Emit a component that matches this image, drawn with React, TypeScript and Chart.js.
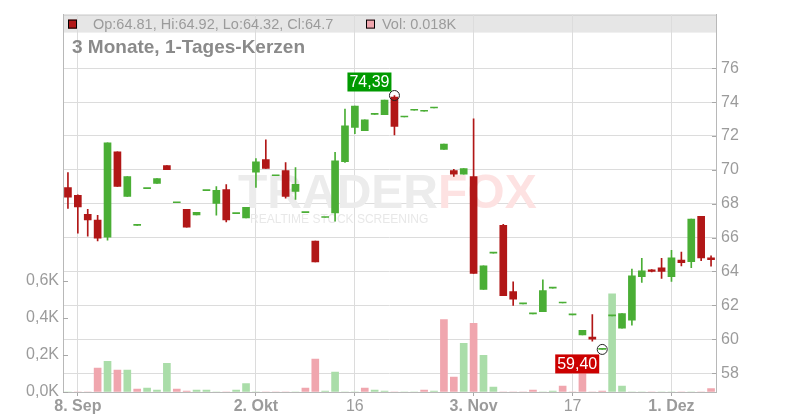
import React, { useEffect, useRef } from 'react';
import { Chart, registerables } from 'chart.js';

Chart.register(...registerables);

const dates = [
  '2025-09-05', '2025-09-08', '2025-09-09', '2025-09-10', '2025-09-11', '2025-09-12',
  '2025-09-15', '2025-09-16', '2025-09-17', '2025-09-18', '2025-09-19',
  '2025-09-22', '2025-09-23', '2025-09-24', '2025-09-25', '2025-09-26',
  '2025-09-29', '2025-09-30', '2025-10-01', '2025-10-02', '2025-10-03',
  '2025-10-06', '2025-10-07', '2025-10-08', '2025-10-09', '2025-10-10',
  '2025-10-13', '2025-10-14', '2025-10-15', '2025-10-16', '2025-10-17',
  '2025-10-20', '2025-10-21', '2025-10-22', '2025-10-23', '2025-10-24',
  '2025-10-27', '2025-10-28', '2025-10-29', '2025-10-30', '2025-10-31',
  '2025-11-03', '2025-11-04', '2025-11-05', '2025-11-06', '2025-11-07',
  '2025-11-10', '2025-11-11', '2025-11-12', '2025-11-13', '2025-11-14',
  '2025-11-17', '2025-11-18', '2025-11-19', '2025-11-20', '2025-11-21',
  '2025-11-24', '2025-11-25', '2025-11-26', '2025-11-27', '2025-11-28',
  '2025-12-01', '2025-12-02', '2025-12-03', '2025-12-04', '2025-12-05',
];

const opens = [
  68.96, 68.49, 67.38, 67.03, 66.03, 71.07, 68.43, 66.72, 68.89, 69.2,
  70.25, 68.06, 67.67, 67.34, 68.77, 68.02, 68.84, 67.42, 67.16, 69.86,
  70.6, 69.65, 69.96, 68.73, 67.48, 65.8, 67.19, 67.46, 70.49, 72.5,
  72.32, 73.28, 73.26, 74.3, 73.12, 73.52, 73.46, 73.65, 71.21, 69.96,
  69.74, 69.61, 62.94, 65.08, 66.73, 62.81, 62.09, 61.5, 61.63, 63.02,
  62.14, 61.44, 60.25, 60.13, 59.4, 61.38, 60.66, 61.12, 63.7, 64.1,
  64.21, 63.7, 64.68, 64.58, 67.26, 64.81,
];
const highs = [
  69.84, 68.53, 67.67, 67.32, 71.6, 71.07, 69.61, 66.72, 68.89, 69.49,
  70.25, 68.06, 67.67, 67.5, 68.77, 69.02, 69.13, 67.42, 67.79, 70.66,
  71.77, 69.65, 70.43, 70.13, 67.48, 65.8, 67.19, 71.03, 73.59, 73.77,
  72.95, 73.28, 74.12, 74.39, 73.12, 73.52, 73.46, 73.65, 71.52, 70.03,
  70.07, 73.02, 64.33, 65.08, 66.79, 63.39, 62.09, 61.5, 63.51, 63.02,
  62.14, 61.44, 60.52, 61.46, 59.4, 61.38, 61.52, 64.14, 64.78, 64.12,
  64.78, 65.25, 65.15, 67.09, 67.26, 64.92,
];
const lows = [
  67.73, 66.26, 66.09, 65.8, 65.85, 69.02, 68.43, 66.72, 68.89, 69.2,
  70.01, 68.06, 66.62, 67.34, 68.77, 67.32, 66.93, 67.42, 67.16, 68.96,
  70.08, 69.65, 68.33, 68.26, 67.48, 64.56, 67.19, 66.97, 70.44, 72.13,
  72.32, 73.28, 73.26, 72.07, 73.12, 73.52, 73.46, 73.65, 71.21, 69.62,
  69.74, 63.88, 62.94, 65.08, 62.57, 61.99, 62.09, 61.5, 61.63, 63.02,
  62.14, 61.44, 60.25, 59.89, 59.4, 61.38, 60.66, 60.83, 63.35, 63.98,
  63.59, 63.41, 64.33, 64.23, 64.64, 64.32,
];
const closes = [
  68.39, 67.81, 67.05, 65.97, 71.6, 69.02, 69.61, 66.72, 68.89, 69.49,
  70.01, 68.06, 66.62, 67.5, 68.77, 68.79, 67.04, 67.42, 67.79, 70.47,
  70.08, 69.65, 68.43, 69.14, 67.48, 64.56, 67.19, 70.54, 72.6, 73.77,
  72.95, 73.28, 74.12, 72.56, 73.12, 73.52, 73.46, 73.65, 71.52, 69.74,
  70.07, 63.88, 64.33, 65.08, 62.57, 62.36, 62.09, 61.5, 62.87, 63.02,
  62.14, 61.44, 60.52, 60.01, 59.4, 61.38, 61.52, 63.74, 64.04, 64.0,
  64.0, 64.8, 64.52, 67.09, 64.8, 64.7,
];
const volumes = [
  0, 0, 0, 129, 166, 118, 118, 16, 21, 11,
  155, 16, 5, 11, 11, 0, 0, 11, 45, 0,
  0, 0, 0, 0, 21, 177, 5, 107, 0, 0,
  21, 11, 5, 0, 0, 0, 11, 5, 391, 81,
  262, 370, 198, 27, 0, 0, 0, 11, 0, 5,
  32, 0, 150, 0, 5, 530, 32, 0, 0, 0,
  0, 0, 0, 0, 0, 18,
];

const xTickIndex = [1, 19, 29, 41, 51, 61];
const xTickText = ['8. Sep', '2. Okt', '16', '3. Nov', '17', '1. Dez'];
const xTickBold = [true, true, false, true, false, true];
const priceTicks = [58, 60, 62, 64, 66, 68, 70, 72, 74, 76];
const volumeTicks = [0, 200, 400, 600];

const FONT = "'Liberation Sans', Arial, Helvetica, sans-serif";
const RED = '#b11717';
const GREEN = '#4aae35';
const VOL_RED = '#f0a6ae';
const VOL_GREEN = '#aadda9';
const TXT = '#9b9b9b';

const bodyColors = opens.map((o, i) => (closes[i] < o ? RED : GREEN));
const volColors = closes.map((c, i) => (i > 0 && c < closes[i - 1] ? VOL_RED : VOL_GREEN));

const fmtDE = (v: number) => v.toFixed(2).replace('.', ',');

const decoPlugin = {
  id: 'deco',
  beforeDraw(chart: any) {
    const { ctx, chartArea: a } = chart;
    ctx.save();
    ctx.fillStyle = '#e6e6e6';
    ctx.fillRect(a.left, a.top, a.right - a.left, 18);
    ctx.strokeStyle = '#cacaca';
    ctx.lineWidth = 1;
    ctx.beginPath();
    ctx.moveTo(a.left, a.top + 0.5);
    ctx.lineTo(a.right, a.top + 0.5);
    ctx.stroke();
    ctx.restore();
  },
  beforeDatasetsDraw(chart: any) {
    const { ctx, chartArea: a } = chart;
    ctx.save();
    // watermark
    ctx.textBaseline = 'alphabetic';
    ctx.textAlign = 'left';
    ctx.font = `bold 48px ${FONT}`;
    ctx.fillStyle = '#ececec';
    ctx.fillText('TRADER', 238, 208);
    const w = ctx.measureText('TRADER').width;
    ctx.fillStyle = '#fde2e2';
    ctx.fillText('FOX', 238 + w, 208);
    ctx.font = `12px ${FONT}`;
    ctx.fillStyle = '#e8e8e8';
    ctx.fillText('REALTIME STOCK SCREENING', 250, 223);

    // header texts
    const last = opens.length - 1;
    ctx.textBaseline = 'middle';
    ctx.fillStyle = RED;
    ctx.fillRect(a.left + 5, a.top + 5, 9, 9);
    ctx.strokeStyle = '#000';
    ctx.lineWidth = 1;
    ctx.strokeRect(a.left + 5.5, a.top + 5.5, 8, 8);
    ctx.font = `14.5px ${FONT}`;
    ctx.fillStyle = TXT;
    ctx.fillText(
      `Op:${opens[last]}, Hi:${highs[last]}, Lo:${lows[last]}, Cl:${closes[last]}`,
      a.left + 30,
      a.top + 10
    );
    ctx.fillStyle = VOL_RED;
    ctx.fillRect(366, a.top + 5, 9, 9);
    ctx.strokeRect(366.5, a.top + 5.5, 8, 8);
    ctx.fillStyle = TXT;
    ctx.fillText(`Vol: ${(volumes[last] / 1000).toFixed(3)}K`, 382, a.top + 10);

    // title
    ctx.font = `bold 19px ${FONT}`;
    ctx.fillStyle = '#8a8a8a';
    ctx.fillText('3 Monate, 1-Tages-Kerzen', 72, 48);
    ctx.restore();
  },
  afterDatasetsDraw(chart: any) {
    const { ctx, chartArea: a, scales } = chart;
    const y = scales.y;
    const v = scales.v;
    const x = scales.x;
    ctx.save();
    ctx.strokeStyle = '#a8a8a8';
    ctx.lineWidth = 1;
    ctx.beginPath();
    priceTicks.forEach((p) => {
      const py = Math.round(y.getPixelForValue(p)) + 0.5;
      ctx.moveTo(a.right - 4, py);
      ctx.lineTo(a.right, py);
    });
    volumeTicks.forEach((p) => {
      const py = Math.round(v.getPixelForValue(p)) + 0.5;
      ctx.moveTo(a.left, py);
      ctx.lineTo(a.left + 5, py);
    });
    ctx.stroke();

    // max / min annotations
    let hiIdx = 0;
    let loIdx = 0;
    highs.forEach((h, i) => { if (h > highs[hiIdx]) hiIdx = i; });
    lows.forEach((l, i) => { if (l < lows[loIdx]) loIdx = i; });
    const hx = x.getPixelForValue(hiIdx);
    const hy = y.getPixelForValue(highs[hiIdx]);
    const lx = x.getPixelForValue(loIdx);
    const ly = y.getPixelForValue(lows[loIdx]);

    ctx.strokeStyle = '#222';
    ctx.beginPath();
    ctx.arc(hx, hy, 5, 0, Math.PI * 2);
    ctx.stroke();
    ctx.beginPath();
    ctx.arc(lx, ly, 5, 0, Math.PI * 2);
    ctx.stroke();

    ctx.font = `16px ${FONT}`;
    ctx.textBaseline = 'middle';
    ctx.textAlign = 'center';
    const bw = 44;
    const bh = 19;
    // high label
    ctx.fillStyle = '#009a00';
    ctx.fillRect(hx - 3 - bw, hy - 4 - bh, bw, bh);
    ctx.fillStyle = '#fff';
    ctx.fillText(fmtDE(highs[hiIdx]), hx - 3 - bw / 2, hy - 4 - bh / 2 + 1);
    // low label
    ctx.fillStyle = '#cc0000';
    ctx.fillRect(lx - 3 - bw, ly + 5, bw, bh);
    ctx.fillStyle = '#fff';
    ctx.fillText(fmtDE(lows[loIdx]), lx - 3 - bw / 2, ly + 5 + bh / 2 + 1);
    ctx.restore();
  },
};

export default function App() {
  const ref = useRef<HTMLCanvasElement | null>(null);

  useEffect(() => {
    if (!ref.current) return;
    const chart = new Chart(ref.current, {
      type: 'bar',
      data: {
        labels: dates,
        datasets: [
          {
            label: 'Kerzen',
            data: opens.map((o, i) => [o, closes[i]]) as any,
            backgroundColor: bodyColors,
            barThickness: 7,
            minBarLength: 1,
            grouped: false,
            borderWidth: 0,
            yAxisID: 'y',
            order: 1,
          } as any,
          {
            label: 'Dochte',
            data: lows.map((l, i) => [l, highs[i]]) as any,
            backgroundColor: bodyColors,
            barThickness: 1,
            grouped: false,
            borderWidth: 0,
            yAxisID: 'y',
            order: 2,
          } as any,
          {
            label: 'Volumen',
            data: volumes,
            backgroundColor: volColors,
            barThickness: 7,
            grouped: false,
            borderWidth: 0,
            yAxisID: 'v',
            order: 3,
          } as any,
        ],
      },
      options: {
        responsive: false,
        animation: false,
        devicePixelRatio: 1,
        layout: { padding: { top: 12, left: 0, right: 0, bottom: 0 } },
        plugins: { legend: { display: false }, tooltip: { enabled: false } },
        scales: {
          x: {
            type: 'category',
            offset: true,
            grid: {
              offset: false,
              color: '#dcdcdc',
              tickColor: '#a8a8a8',
              tickLength: 4,
              drawTicks: true,
            },
            border: { color: '#b8b8b8' },
            afterBuildTicks: (s: any) => {
              s.ticks = s.ticks.filter((t: any) => xTickIndex.includes(t.value));
            },
            afterFit: (s: any) => {
              s.height = 28;
            },
            ticks: {
              autoSkip: false,
              maxRotation: 0,
              padding: 1,
              color: TXT,
              callback: (val: any) => xTickText[xTickIndex.indexOf(Number(val))],
              font: (c: any) => ({
                family: FONT,
                size: 16,
                weight: xTickBold[xTickIndex.indexOf(c.tick ? c.tick.value : -1)] ? 'bold' : 'normal',
              }),
            },
          },
          y: {
            position: 'right',
            min: 56.886,
            max: 79.166,
            afterBuildTicks: (s: any) => {
              s.ticks = priceTicks.map((p) => ({ value: p }));
            },
            afterFit: (s: any) => {
              s.width = 84;
            },
            grid: { color: '#dcdcdc', drawTicks: false },
            border: { color: '#b8b8b8' },
            ticks: {
              padding: 5,
              color: TXT,
              font: { family: FONT, size: 16 },
              callback: (val: any) => String(val),
            },
          },
          v: {
            position: 'left',
            min: 0,
            max: 2035.7,
            afterBuildTicks: (s: any) => {
              s.ticks = volumeTicks.map((p) => ({ value: p }));
            },
            afterFit: (s: any) => {
              s.width = 63;
            },
            grid: { drawOnChartArea: false, drawTicks: false },
            border: { color: '#b8b8b8' },
            ticks: {
              padding: 4,
              color: TXT,
              font: { family: FONT, size: 16 },
              callback: (val: any) => (Number(val) / 1000).toFixed(1).replace('.', ',') + 'K',
            },
          },
        },
      } as any,
      plugins: [decoPlugin],
    });
    return () => chart.destroy();
  }, []);

  return (
    <div style={{ position: 'fixed', left: 0, top: 0, width: 800, height: 420, background: '#fff' }}>
      <canvas ref={ref} width={800} height={420} style={{ width: 800, height: 420 }} />
    </div>
  );
}
